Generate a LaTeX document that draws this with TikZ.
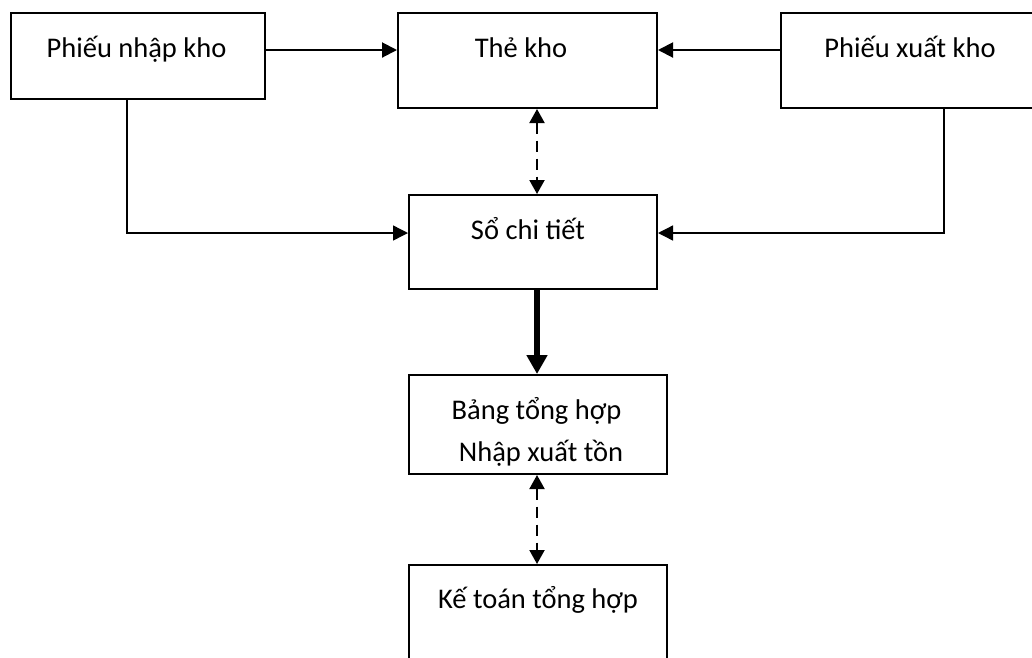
\documentclass[tikz,border=0pt]{standalone}
\usepackage{fontspec}
\setmainfont{Carlito}
\usetikzlibrary{arrows.meta}
\begin{document}
\begin{tikzpicture}[x=1pt,y=-1pt,
  box/.style={draw, line width=2pt, inner sep=0pt},
  lbl/.style={anchor=base, inner sep=0pt, font=\fontsize{28.5}{43}\selectfont},
  flow/.style={line width=2pt, -{Triangle[length=15pt,width=15pt]}},
  feed/.style={line width=1.4pt, -{Triangle[length=15pt,width=15pt]}},
  heavy/.style={line width=6.5pt, -{Triangle[length=19pt,width=20pt]}},
  link/.style={line width=2pt, dash pattern=on 11pt off 7pt,
    {Triangle[length=14pt,width=15pt]}-{Triangle[length=14pt,width=15pt]}}]
\useasboundingbox (0,0) rectangle (1032,657);
\clip (0,0) rectangle (1032,657);

% boxes
\node[box, minimum width=254pt, minimum height=85.5pt] (pn)  at (138,55.75)  {};
\node[box, minimum width=259pt, minimum height=95pt]   (tk)  at (527.5,60.5) {};
\node[box, minimum width=252pt, minimum height=95pt]   (px)  at (907,60.5)   {};
\node[box, minimum width=248pt, minimum height=94pt]   (sct) at (533,242)    {};
\node[box, minimum width=258pt, minimum height=99pt]   (bth) at (538,424.5)  {};
\node[box, minimum width=258pt, minimum height=115pt]  (ktt) at (538,622.5)  {};

% labels
\node[lbl] (tpn)  at (136.5,57) {Phiếu nhập kho};
\node[lbl] (ttk)  at (521,57)   {Thẻ kho};
\node[lbl] (tpx)  at (910,57)   {Phiếu xuất kho};
\node[lbl] (tsct) at (528,239)  {Sổ chi tiết};
\node[lbl] (tb1)  at (536.5,419) {Bảng tổng hợp};
\node[lbl] (tb2)  at (541,461.5) {Nhập xuất tồn};
\node[lbl] (tkt)  at (538,608)  {Kế toán tổng hợp};

% guide coordinates for connector rows and columns
\coordinate (row1) at (0,50);
\coordinate (row2) at (0,233);
\coordinate (mid)  at (537,0);
\coordinate (lcol) at (127,0);
\coordinate (rcol) at (944,0);

% connectors
\draw[flow] (pn.east |- row1) -- (tk.west |- row1);
\draw[flow] (px.west |- row1) -- (tk.east |- row1);
\draw[link] (tk.south -| mid) -- (sct.north -| mid);
\draw[feed] (pn.south -| lcol) |- (sct.west |- row2);
\draw[feed] (px.south -| rcol) |- (sct.east |- row2);
\draw[heavy] (sct.south -| mid) -- (bth.north -| mid);
\draw[link] (bth.south -| mid) -- (ktt.north -| mid);
\end{tikzpicture}
\end{document}
